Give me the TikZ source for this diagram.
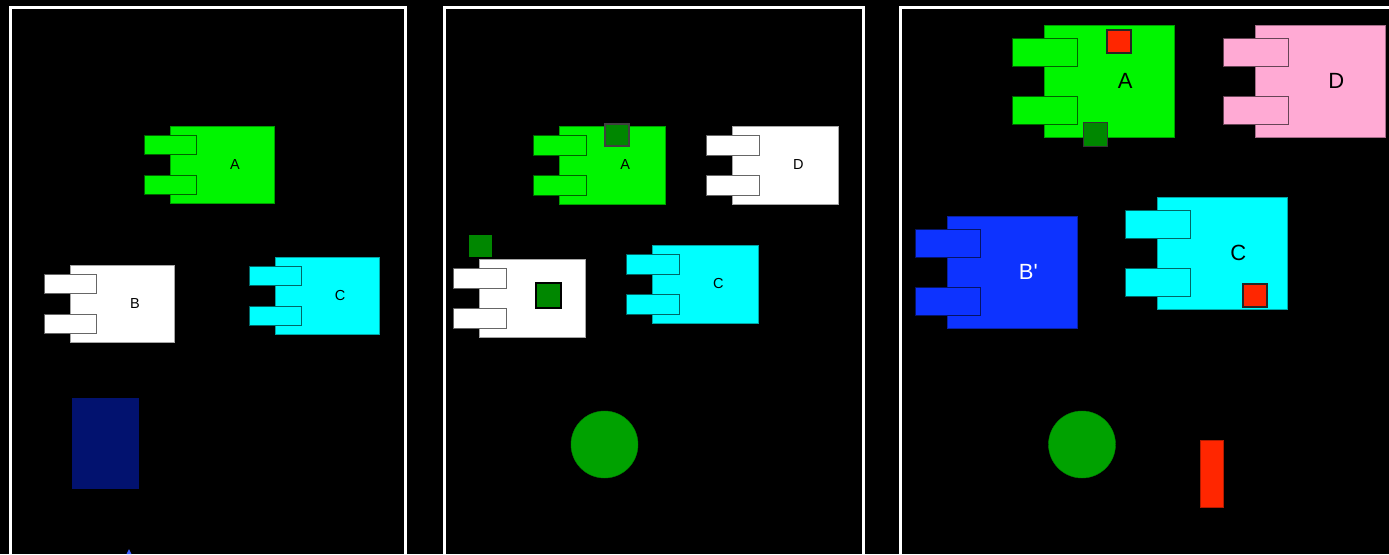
\documentclass[tikz,border=0pt]{standalone}
\usepackage{fontspec}
\setmainfont{Liberation Sans}[Ligatures=TeXOff]
\definecolor{cgreen}{HTML}{00F500}
\definecolor{ccyan}{HTML}{00FFFF}
\definecolor{cpink}{HTML}{FFAAD4}
\definecolor{cblue}{HTML}{0D33FF}
\definecolor{cnavy}{HTML}{02126F}
\definecolor{dgreen}{HTML}{008700}
\definecolor{cgreenc}{HTML}{00A200}
\definecolor{cred}{HTML}{FF2600}
\tikzset{
  panel/.style={draw=white,line width=3pt},
  body/.style={rectangle,inner sep=0pt,line width=0.7pt},
  tabbox/.style={rectangle,inner sep=0pt,line width=0.9pt},
  sq/.style={rectangle,inner sep=0pt,anchor=north west},
}
% #1 name, #2 x, #3 y (top left of body), #4 w, #5 h, #6 colour, #7 label, #8 font
\newcommand\mkcomp[8]{%
  \pgfmathsetmacro\cmpw{#4}\pgfmathsetmacro\cmph{#5}%
  \pgfmathsetmacro\cmptx{#2-#4/4}\pgfmathsetmacro\cmptw{#4/2}%
  \pgfmathsetmacro\cmpth{#5/4}%
  \pgfmathsetmacro\cmpya{#3+0.12*#5}\pgfmathsetmacro\cmpyb{#3+0.63*#5}%
  \pgfmathsetmacro\cmplx{#2+0.625*#4}\pgfmathsetmacro\cmply{#3+0.5*#5}%
  \node[body,fill=#6,draw=#6!65!black,minimum width=\cmpw pt,minimum height=\cmph pt,anchor=north west] (#1) at (#2,#3) {};
  \node[tabbox,fill=#6,draw=#6!40!black,minimum width=\cmptw pt,minimum height=\cmpth pt,anchor=north west] (#1-t1) at (\cmptx,\cmpya) {};
  \node[tabbox,fill=#6,draw=#6!40!black,minimum width=\cmptw pt,minimum height=\cmpth pt,anchor=north west] (#1-t2) at (\cmptx,\cmpyb) {};
  \node[font=#8,inner sep=0pt] (#1-l) at (\cmplx,\cmply) {#7};
}
\begin{document}
\begin{tikzpicture}[x=1pt,y=-1pt]
\useasboundingbox[fill=black] (0,0) rectangle (1389,554);
% panels
\draw[panel] (10,570) -- (10,7) -- (405,7) -- (405,570);
\draw[panel] (444,570) -- (444,7) -- (863,7) -- (863,570);
\draw[panel] (900,570) -- (900,7) -- (1400,7);
% panel 1
\mkcomp{a1}{170}{126}{104}{77}{cgreen}{A}{\fontsize{14.5}{14.5}\selectfont}
\mkcomp{b1}{70}{265}{104}{77}{white}{B}{\fontsize{14.5}{14.5}\selectfont}
\mkcomp{c1}{275}{257}{104}{77}{ccyan}{C}{\fontsize{14.5}{14.5}\selectfont}
\node[sq,fill=cnavy,minimum width=67pt,minimum height=91pt] (navy) at (72,398) {};
\fill[cblue!80!white] (129,549) -- (126.5,554) -- (131.5,554) -- cycle;
% panel 2
\mkcomp{a2}{559}{126}{106}{78}{cgreen}{A}{\fontsize{14.5}{14.5}\selectfont}
\mkcomp{d2}{732}{126}{106}{78}{white}{D}{\fontsize{14.5}{14.5}\selectfont}
\mkcomp{b2}{479}{259}{106}{78}{white}{}{\fontsize{14.5}{14.5}\selectfont}
\mkcomp{c2}{652}{245}{106}{78}{ccyan}{C}{\fontsize{14.5}{14.5}\selectfont}
\node[sq,fill=dgreen,draw=black!75,line width=1.5pt,minimum width=24pt,minimum height=22pt] (g2a) at (604,123) {};
\node[sq,fill=dgreen,minimum width=23pt,minimum height=22pt] (g2b) at (469,235) {};
\node[sq,fill=dgreen,draw=black,line width=1.6pt,minimum width=25pt,minimum height=25pt] (g2c) at (535,282) {};
\node[circle,fill=cgreenc,draw=cgreenc!80!black,line width=0.4pt,minimum size=67pt,inner sep=0pt] (circ2) at (604.5,444.5) {};
% panel 3
\mkcomp{a3}{1044}{25}{130}{112}{cgreen}{A}{\fontsize{22}{22}\selectfont}
\mkcomp{d3}{1255}{25}{130}{112}{cpink}{D}{\fontsize{22}{22}\selectfont}
\mkcomp{b3}{947}{216}{130}{112}{cblue}{\color{white}B'}{\fontsize{22}{22}\selectfont}
\mkcomp{c3}{1157}{197}{130}{112}{ccyan}{C}{\fontsize{22}{22}\selectfont}
\node[sq,fill=cred,draw=black!85,line width=1.6pt,minimum width=24pt,minimum height=23pt] (r3a) at (1106,29) {};
\node[sq,fill=dgreen,draw=black!80,line width=1.4pt,minimum width=24pt,minimum height=24pt] (g3a) at (1083,122) {};
\node[sq,fill=cred,draw=black!85,line width=1.6pt,minimum width=24pt,minimum height=23pt] (r3c) at (1242,283) {};
\node[circle,fill=cgreenc,draw=cgreenc!80!black,line width=0.4pt,minimum size=67pt,inner sep=0pt] (circ3) at (1082,444.5) {};
\node[sq,fill=cred,draw=cred!70!black,line width=0.6pt,minimum width=23pt,minimum height=67pt] (r3b) at (1200,440) {};
\end{tikzpicture}
\end{document}
